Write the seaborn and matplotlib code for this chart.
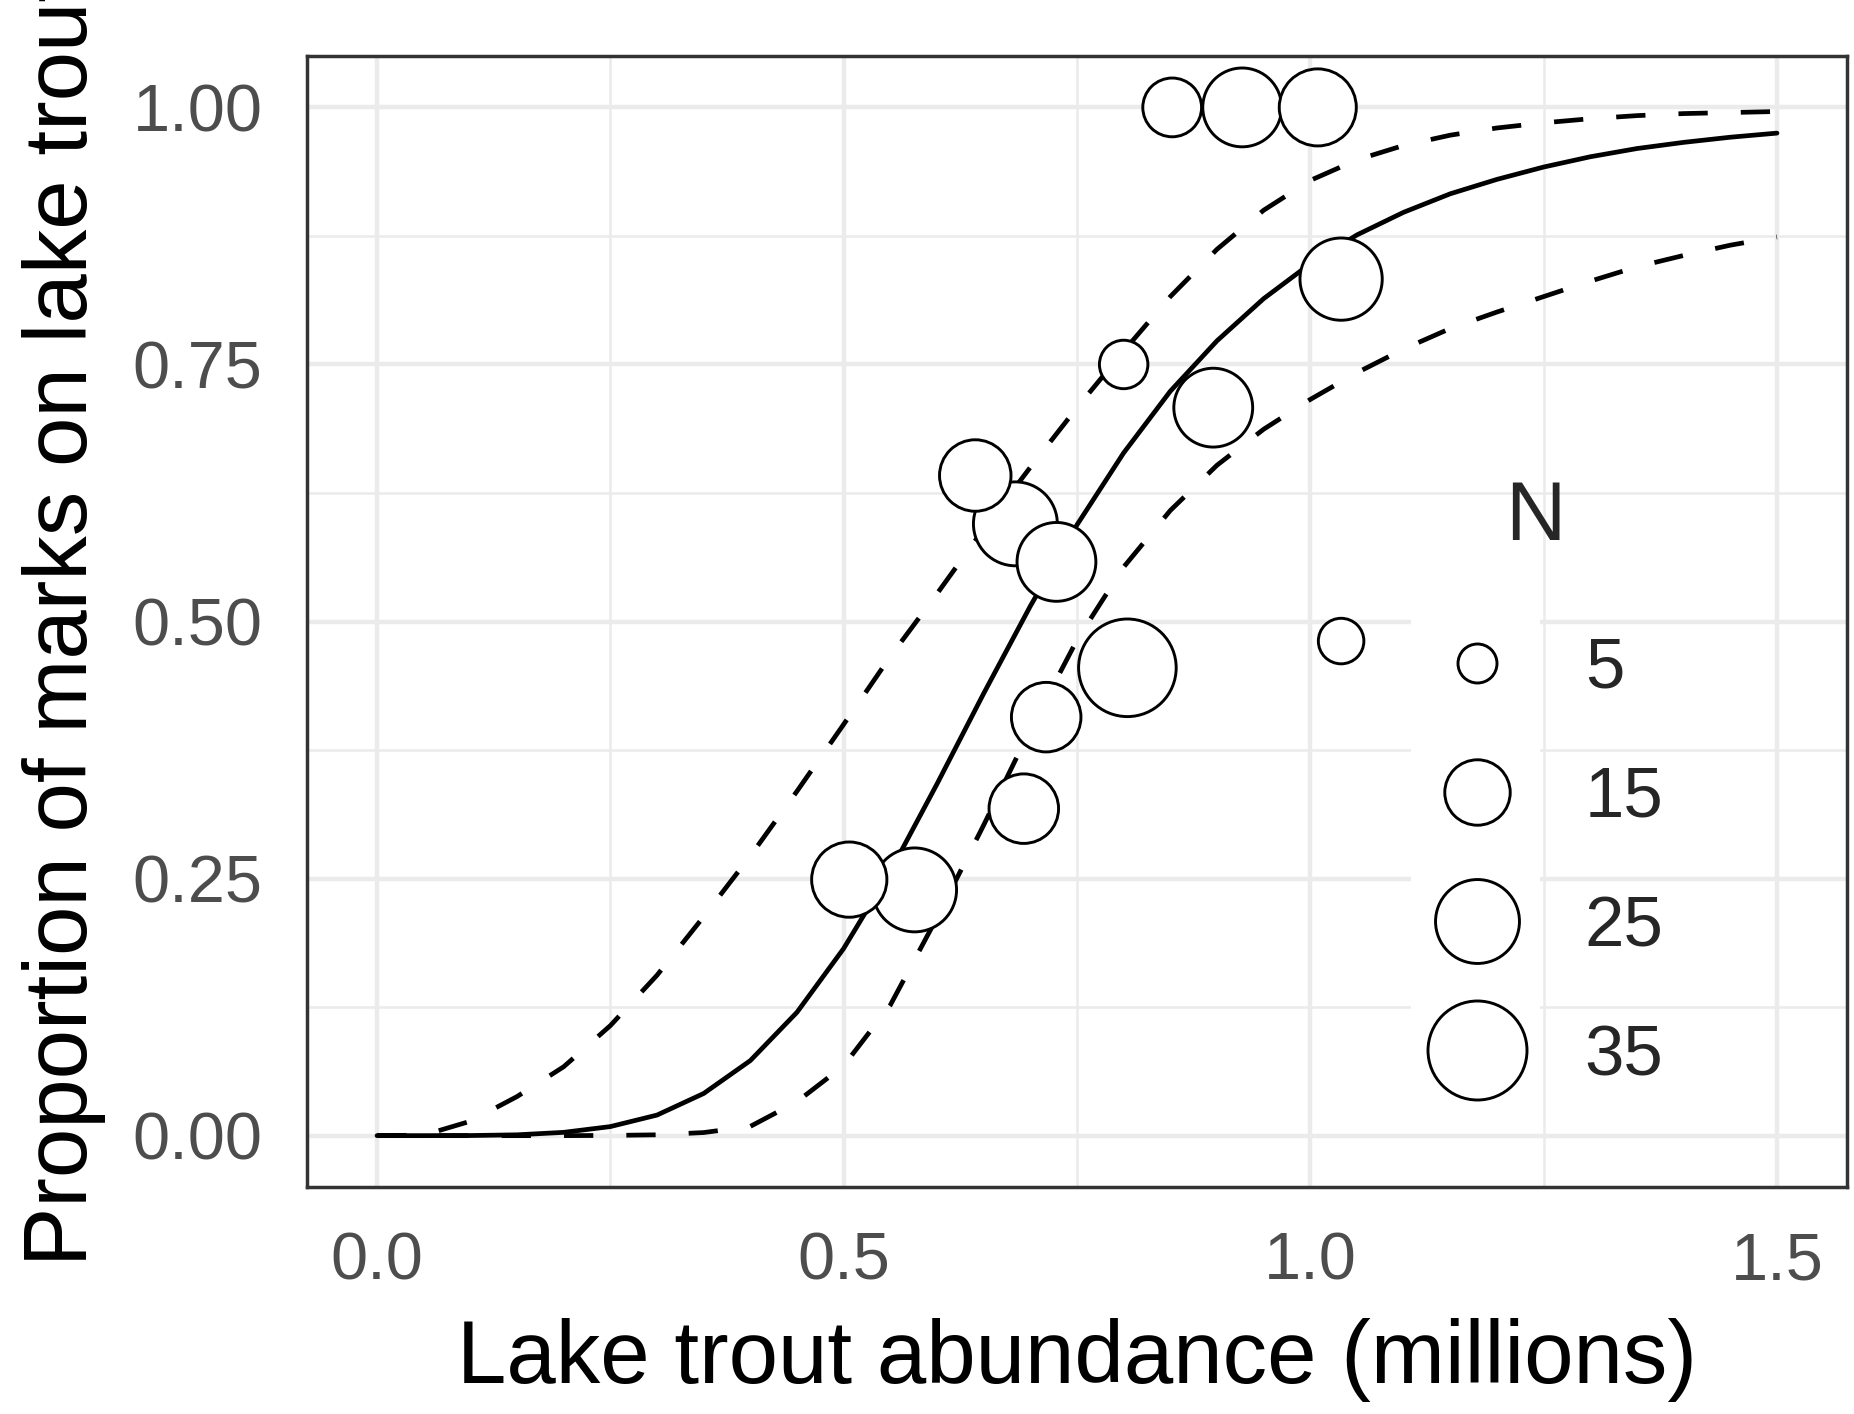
import numpy as np
import pandas as pd
import matplotlib
matplotlib.use("Agg")
import matplotlib.pyplot as plt
import seaborn as sns
from matplotlib.lines import Line2D
from matplotlib.patches import Rectangle

# ---- observed points (abundance in millions, proportion of marks, N) ----
abundance = [0.684, 0.852, 0.927, 1.008, 1.033, 0.800, 0.896, 0.641, 0.728,
             0.804, 1.033, 0.717, 0.693, 0.576, 0.506]
proportion = [0.595, 1.000, 1.000, 1.000, 0.833, 0.750, 0.708, 0.642, 0.558,
              0.455, 0.481, 0.407, 0.318, 0.239, 0.249]
n_fish = [25, 12, 22, 21, 24, 8, 22, 18, 22, 34, 7, 17, 17, 25, 20]

# ---- fitted curve and confidence band ----
curve_x = [0.00, 0.05, 0.10, 0.15, 0.20, 0.25, 0.30, 0.35, 0.40, 0.45, 0.50,
           0.55, 0.60, 0.65, 0.70, 0.75, 0.80, 0.85, 0.90, 0.95, 1.00,
           1.05, 1.10, 1.15, 1.20, 1.25, 1.30, 1.35, 1.40, 1.45, 1.50]
fit = [0.0, 0.0, 0.0001, 0.0008, 0.0032, 0.0088, 0.020, 0.041, 0.073, 0.120, 0.182,
       0.257, 0.342, 0.430, 0.515, 0.594, 0.664, 0.724, 0.773, 0.814, 0.848,
       0.876, 0.898, 0.916, 0.930, 0.942, 0.952, 0.960, 0.966, 0.971, 0.975]
upper = [0.0, 0.0005, 0.014, 0.038, 0.067, 0.107, 0.156, 0.213, 0.272, 0.335, 0.400,
         0.466, 0.527, 0.590, 0.650, 0.708, 0.763, 0.816, 0.862, 0.900, 0.929,
         0.949, 0.963, 0.973, 0.980, 0.985, 0.989, 0.992, 0.994, 0.995, 0.996]
lower = [0.0, 0.0, 0.0, 0.0, 0.0, 0.0002, 0.0008, 0.003, 0.009, 0.033, 0.068,
         0.127, 0.212, 0.302, 0.395, 0.482, 0.553, 0.608, 0.652, 0.687, 0.716,
         0.742, 0.765, 0.785, 0.801, 0.816, 0.831, 0.845, 0.856, 0.866, 0.874]

legend_levels = [5, 15, 25, 35]
x_ticks = [0.0, 0.5, 1.0, 1.5]
x_minor = [0.25, 0.75, 1.25]
y_ticks = [0.00, 0.25, 0.50, 0.75, 1.00]
y_minor = [0.125, 0.375, 0.625, 0.875]

x_title = "Lake trout abundance (millions)"
y_title = "Proportion of marks on lake trout"

# ---- style ----
sns.set_style("white")
plt.rcParams["font.family"] = ["Liberation Sans", "DejaVu Sans"]

df = pd.DataFrame({"abundance": abundance, "proportion": proportion, "N": n_fish})

size_lo, size_hi = 72.5, 5796.5   # marker area (pt^2) for N = 0 and N = 40
size_norm = (0, 40)
edge_w = 2.1

fig = plt.figure(figsize=(18.54, 14.14), dpi=100)
ax = fig.add_axes([0.1656, 0.1605, 0.8306, 0.7999])

# white key backgrounds of the legend (hide gridlines behind keys)
ax.add_patch(Rectangle((0.7169, 0.0637), 0.0837, 0.458, transform=ax.transAxes,
                       facecolor="white", edgecolor="none", zorder=1))

lw = 3.4
dash = (0, (6.2, 7.0))
sns.lineplot(x=curve_x, y=fit, color="black", linewidth=lw, ax=ax, zorder=2)
sns.lineplot(x=curve_x, y=upper, color="black", linewidth=lw,
             linestyle=dash, ax=ax, zorder=2)
sns.lineplot(x=curve_x, y=lower, color="black", linewidth=lw,
             linestyle=dash, ax=ax, zorder=2)

sns.scatterplot(data=df, x="abundance", y="proportion", size="N",
                sizes=(size_lo, size_hi), size_norm=size_norm,
                color="white", edgecolor="black", linewidth=edge_w,
                legend=False, ax=ax, zorder=3)

ax.set_xlim(-0.075, 1.575)
ax.set_ylim(-0.05, 1.05)
ax.set_xticks(x_ticks, labels=[f"{v:.1f}" for v in x_ticks])
ax.set_yticks(y_ticks, labels=[f"{v:.2f}" for v in y_ticks])
ax.set_xticks(x_minor, minor=True)
ax.set_yticks(y_minor, minor=True)

ax.set_axisbelow(True)
ax.grid(which="major", color="#EBEBEB", linewidth=3.2)
ax.grid(which="minor", color="#EBEBEB", linewidth=1.8)

for sp in ax.spines.values():
    sp.set_visible(True)
    sp.set_color("#333333")
    sp.set_linewidth(2.5)

ax.tick_params(which="major", length=15, width=2.5, color="#333333",
               pad=17, labelsize=48, labelcolor="#4D4D4D")
ax.tick_params(which="minor", length=0)

ax.set_xlabel(x_title, fontsize=64, color="black", labelpad=18)
ax.set_ylabel(y_title, fontsize=64, color="black", labelpad=19)

# legend for point size
def area(n):
    return size_lo + (size_hi - size_lo) * (n - size_norm[0]) / (size_norm[1] - size_norm[0])

handles = [Line2D([], [], linestyle="", marker="o", markersize=np.sqrt(area(v)),
                  markerfacecolor="white", markeredgecolor="black",
                  markeredgewidth=edge_w) for v in legend_levels]
leg = ax.legend(handles, [str(v) for v in legend_levels], title="N",
                loc="center", bbox_to_anchor=(0.7974, 0.3559),
                frameon=False, fontsize=51, title_fontsize=60,
                labelspacing=0.89, handlelength=2.0, handletextpad=0.52,
                borderpad=0, borderaxespad=0)
leg._legend_box.sep = 57.6   # gap between legend title and keys (points)

fig.savefig("out.png", dpi=100)
